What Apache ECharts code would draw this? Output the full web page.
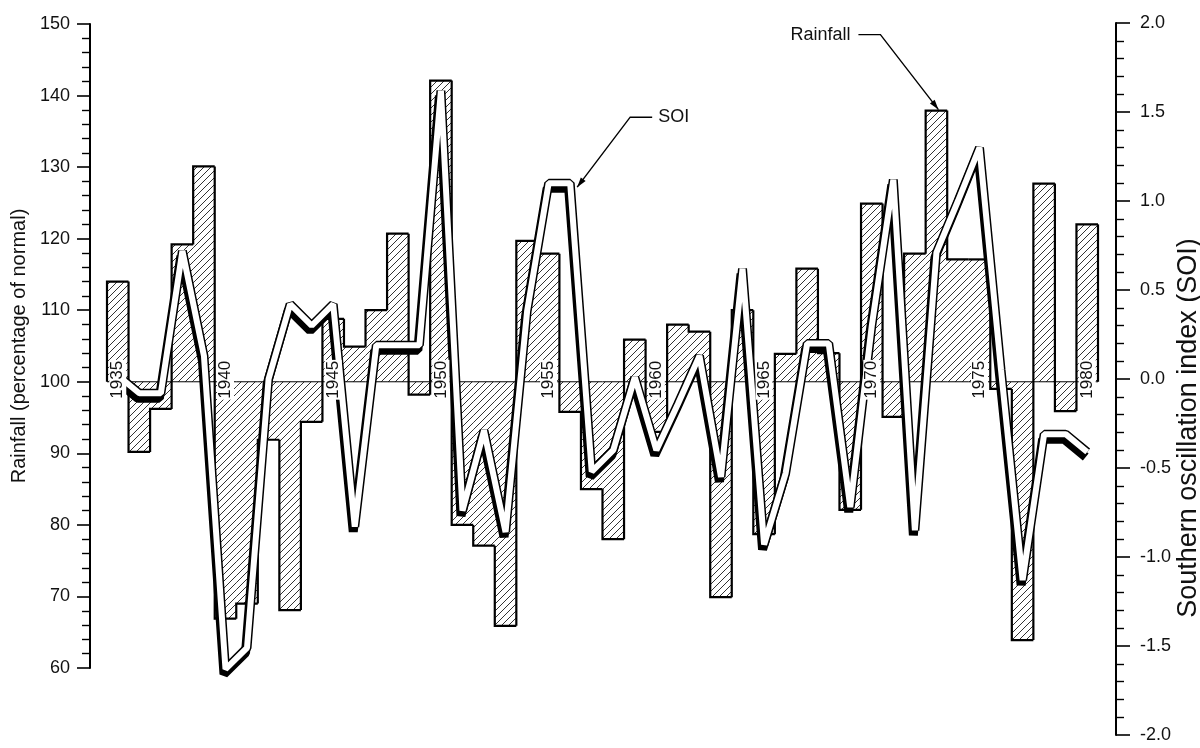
<!DOCTYPE html>
<html>
<head>
<meta charset="utf-8">
<script src="https://cdn.jsdelivr.net/npm/echarts@6/dist/echarts.min.js"></script>
<style>
  html, body { margin: 0; padding: 0; background: #fff; }
  #chart { width: 1200px; height: 748px; }
</style>
</head>
<body>
<div id="chart"></div>
<script>
// Years 1935–1980
const years = [
  '1935','1936','1937','1938','1939','1940','1941','1942','1943','1944',
  '1945','1946','1947','1948','1949','1950','1951','1952','1953','1954',
  '1955','1956','1957','1958','1959','1960','1961','1962','1963','1964',
  '1965','1966','1967','1968','1969','1970','1971','1972','1973','1974',
  '1975','1976','1977','1978','1979','1980'
];

// Annual rainfall, percentage of normal
const rainfall = [
  114.0, 90.2, 96.2, 119.2, 130.1, 66.9, 69.0, 91.9, 68.1, 94.4,
  108.8, 104.9, 110.0, 120.7, 98.2, 142.1, 80.0, 77.1, 65.9, 119.7,
  117.9, 95.8, 85.0, 78.0, 105.9, 93.0, 108.0, 107.0, 69.9, 110.0,
  78.7, 103.9, 115.8, 104.0, 82.1, 124.9, 95.1, 117.9, 137.9, 117.1,
  117.1, 99.0, 63.9, 127.7, 95.9, 122.0
];

// Southern oscillation index
const soi = [
  0.02, -0.08, -0.08, 0.72, 0.13, -1.63, -1.51, 0.00, 0.42, 0.30,
  0.42, -0.83, 0.19, 0.19, 0.19, 1.62, -0.74, -0.29, -0.86, 0.38,
  1.10, 1.10, -0.52, -0.40, 0.01, -0.40, -0.14, 0.13, -0.55, 0.62,
  -0.93, -0.53, 0.20, 0.20, -0.72, 0.30, 1.12, -0.85, 0.71, 1.00,
  1.30, 0.05, -1.13, -0.31, -0.31, -0.41
];

const rainTicks = { min: 60, max: 150, step: 10 };
const soiTicks = { min: -2, max: 2, step: 0.5 };
const NORMAL = 100;

const FONT = '"Liberation Sans", Arial, Helvetica, sans-serif';
const INK = '#111';

// Diagonal hatching used to fill the rainfall bars
function makeHatch() {
  const s = 7;
  const c = document.createElement('canvas');
  c.width = s; c.height = s;
  const g = c.getContext('2d');
  g.strokeStyle = '#333';
  g.lineWidth = 1;
  g.beginPath();
  g.moveTo(0, s); g.lineTo(s, 0);
  g.moveTo(-1, 1); g.lineTo(1, -1);
  g.moveTo(s - 1, s + 1); g.lineTo(s + 1, s - 1);
  g.stroke();
  return c;
}
const hatch = { image: makeHatch(), repeat: 'repeat' };

// Each bar runs from the normal line to its value; the outline is drawn as a
// stepped edge shared with the neighbouring bar.
function renderRain(params, api) {
  const i = params.dataIndex;
  const v = api.value(1);
  const base = api.coord([i, NORMAL]);
  const top = api.coord([i, v]);
  const w = api.size([1, 0])[0];
  const x0 = base[0] - w / 2, x1 = base[0] + w / 2;
  const yb = base[1], yt = top[1];
  const prev = i > 0 ? rainfall[i - 1] : NORMAL;
  const yp = api.coord([i, prev])[1];
  const children = [
    { type: 'rect', shape: { x: x0, y: Math.min(yb, yt), width: w, height: Math.abs(yt - yb) },
      style: { fill: hatch } },
    { type: 'line', shape: { x1: x0, y1: yb, x2: x1, y2: yb },
      style: { stroke: '#000', lineWidth: 1 } },
    { type: 'polyline', shape: { points: [[x0, yp], [x0, yt], [x1, yt]] },
      style: { stroke: '#000', lineWidth: 2.2, fill: null, lineJoin: 'miter' } }
  ];
  if (i === rainfall.length - 1) {
    children.push({ type: 'line', shape: { x1: x1, y1: yt, x2: x1, y2: yb },
      style: { stroke: '#000', lineWidth: 2.2 } });
  }
  return { type: 'group', children };
}

// Year labels every five years, sitting on the normal line
function renderYears(params, api) {
  const i = params.dataIndex;
  const yr = years[i];
  if (Number(yr) % 5 !== 0) return null;
  const p = api.coord([i, NORMAL]);
  return {
    type: 'text',
    x: p[0], y: p[1] - 2,
    rotation: Math.PI / 2,
    style: {
      text: yr, font: '17px ' + FONT, fill: INK,
      align: 'center', verticalAlign: 'middle',
      backgroundColor: '#fff', padding: [0, 1, 0, 1]
    }
  };
}

const chart = echarts.init(document.getElementById('chart'), null, { renderer: 'canvas' });

const axisCommon = {
  splitLine: { show: false },
  axisLine: { show: true, lineStyle: { color: '#000', width: 2 } },
  axisTick: { show: true, inside: false, lineStyle: { color: '#000', width: 1.6 } },
  minorTick: { show: true, splitNumber: 5, length: 8, lineStyle: { color: '#000', width: 1.4 } },
  axisLabel: { color: INK, fontSize: 18, fontFamily: FONT },
  nameTextStyle: { color: INK, fontSize: 20, fontFamily: FONT }
};

chart.setOption({
  animation: false,
  backgroundColor: '#fff',
  grid: [
    { left: 107, right: 102, top: 24, bottom: 80, outerBoundsMode: 'none', containLabel: false },
    { left: 107, right: 102, top: 23, bottom: 13, outerBoundsMode: 'none', containLabel: false }
  ],
  xAxis: [
    { type: 'category', gridIndex: 0, data: years, boundaryGap: true, show: false },
    { type: 'category', gridIndex: 1, data: years, boundaryGap: true, show: false }
  ],
  yAxis: [
    Object.assign({}, axisCommon, {
      type: 'value', gridIndex: 0, position: 'left', offset: 17,
      min: rainTicks.min, max: rainTicks.max, interval: rainTicks.step,
      axisTick: Object.assign({}, axisCommon.axisTick, { length: 13 }),
      axisLabel: Object.assign({}, axisCommon.axisLabel, { margin: 20 }),
      name: 'Rainfall (percentage of normal)',
      nameLocation: 'middle', nameRotate: 90, nameGap: 61
    }),
    Object.assign({}, axisCommon, {
      type: 'value', gridIndex: 1, position: 'right', offset: 18,
      min: soiTicks.min, max: soiTicks.max, interval: soiTicks.step,
      axisTick: Object.assign({}, axisCommon.axisTick, { length: 14 }),
      axisLabel: Object.assign({}, axisCommon.axisLabel, {
        margin: 24, formatter: v => v.toFixed(1)
      })
    })
  ],
  series: [
    {
      name: 'Rainfall', type: 'custom', xAxisIndex: 0, yAxisIndex: 0,
      renderItem: renderRain, encode: { x: 0, y: 1 },
      data: rainfall.map((v, i) => [i, v]), silent: true, z: 2
    },
    {
      name: 'SOI edge', type: 'line', xAxisIndex: 1, yAxisIndex: 1,
      data: soi, symbol: 'none', silent: true, z: 3,
      lineStyle: {
        color: '#000', width: 9, join: 'bevel',
        shadowColor: '#000', shadowBlur: 0, shadowOffsetX: -1.5, shadowOffsetY: 5
      }
    },
    {
      name: 'SOI', type: 'line', xAxisIndex: 1, yAxisIndex: 1,
      data: soi, symbol: 'none', silent: true, z: 4,
      lineStyle: { color: '#fff', width: 6, join: 'bevel' }
    },
    {
      name: 'Years', type: 'custom', xAxisIndex: 0, yAxisIndex: 0,
      renderItem: renderYears, encode: { x: 0, y: 1 },
      data: years.map((y, i) => [i, NORMAL]), silent: true, z: 6
    }
  ]
});

// Callouts naming the two series, anchored to the marks they point at
function arrowHead(tip, from, len, half) {
  const dx = tip[0] - from[0], dy = tip[1] - from[1];
  const d = Math.hypot(dx, dy), ux = dx / d, uy = dy / d;
  const bx = tip[0] - ux * len, by = tip[1] - uy * len;
  return [tip, [bx - uy * half, by + ux * half], [bx + uy * half, by - ux * half]];
}

function callout(tip, elbow, end, label, textX, align) {
  return [
    { type: 'polyline', shape: { points: [end, elbow, tip] },
      style: { stroke: '#000', lineWidth: 1.4, fill: null }, z: 20 },
    { type: 'polygon', shape: { points: arrowHead(tip, elbow, 10, 3) },
      style: { fill: '#000' }, z: 20 },
    { type: 'text', x: textX, y: end[1],
      style: { text: label, font: '18px ' + FONT, fill: INK, align: align, verticalAlign: 'middle' }, z: 20 }
  ];
}

const iSoi = years.indexOf('1956');
const soiPt = chart.convertToPixel({ xAxisIndex: 1, yAxisIndex: 1 }, [iSoi, soi[iSoi]]);
const soiTip = [soiPt[0] + 7, soiPt[1] + 4];
const iRain = years.indexOf('1973');
const rainPt = chart.convertToPixel({ xAxisIndex: 0, yAxisIndex: 0 }, [iRain, rainfall[iRain]]);
const rainTip = [rainPt[0] + 2, rainPt[1] - 1];

// Right-hand axis title, set along the SOI scale
const rightTitle = {
  type: 'text', x: 1189, y: 428, rotation: Math.PI / 2,
  style: { text: 'Southern oscillation index (SOI)', font: '27px ' + FONT, fill: INK,
           align: 'center', verticalAlign: 'middle' }, z: 20
};

chart.setOption({
  graphic: [].concat(
    callout(soiTip, [soiTip[0] + 53, soiTip[1] - 70], [soiTip[0] + 75, soiTip[1] - 70], 'SOI', soiTip[0] + 81, 'left'),
    callout(rainTip, [rainTip[0] - 58, rainTip[1] - 75], [rainTip[0] - 80, rainTip[1] - 75], 'Rainfall', rainTip[0] - 88, 'right'),
    [rightTitle]
  )
});
</script>
</body>
</html>
